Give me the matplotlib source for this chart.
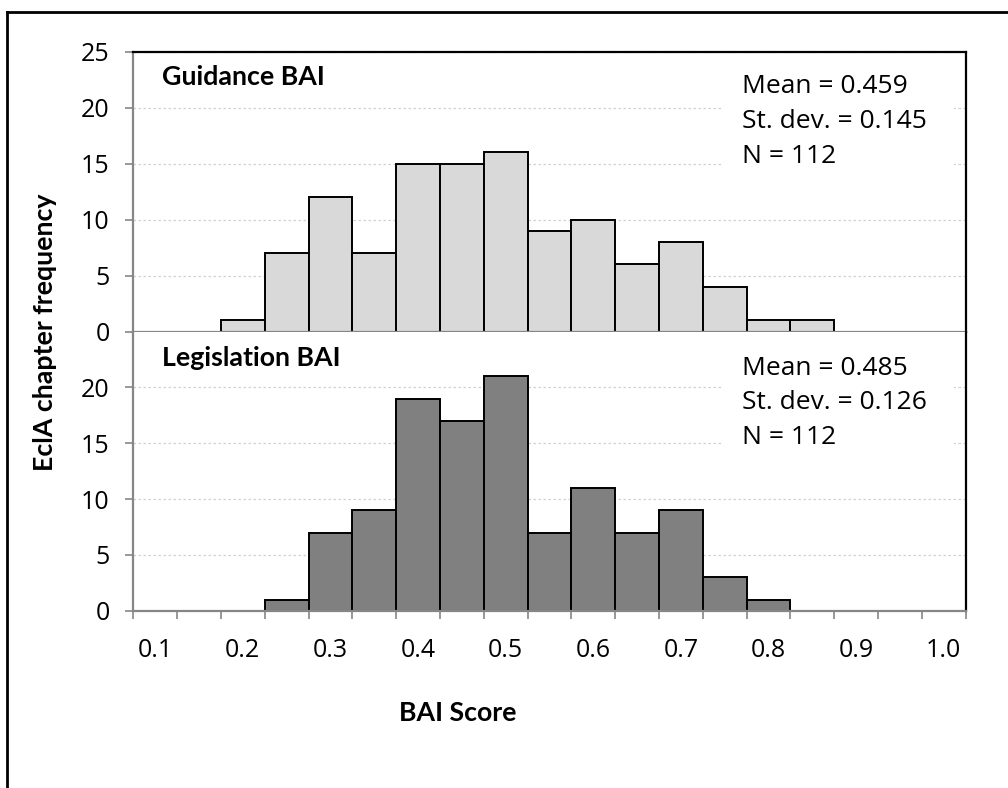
import matplotlib
matplotlib.use("Agg")
import matplotlib.pyplot as plt
from matplotlib.patches import Rectangle
from matplotlib.lines import Line2D

# ---- data ----
categories = ["0.1", "0.15", "0.2", "0.25", "0.3", "0.35", "0.4", "0.45", "0.5", "0.55",
              "0.6", "0.65", "0.7", "0.75", "0.8", "0.85", "0.9", "0.95", "1.0"]
guidance_counts = [0, 0, 1, 7, 12, 7, 15, 15, 16, 9, 10, 6, 8, 4, 1, 1, 0, 0, 0]
legislation_counts = [0, 0, 0, 1, 7, 9, 19, 17, 21, 7, 11, 7, 9, 3, 1, 0, 0, 0, 0]
guidance_stats = ["Mean = 0.459", "St. dev. = 0.145", "N = 112"]
legislation_stats = ["Mean = 0.485", "St. dev. = 0.126", "N = 112"]
top_yticks = [0, 5, 10, 15, 20, 25]
bottom_yticks = [0, 5, 10, 15, 20]

REG = ["Open Sans", "DejaVu Sans"]
BOLD = ["Lato", "DejaVu Sans"]
plt.rcParams["font.family"] = REG
REG_SIZE = 18
STAT_SIZE = 19
BOLD_SIZE = 19.3

W, H = 1008, 788
fig = plt.figure(figsize=(W / 100, H / 100), dpi=100)

left = 133.3 / W
right = 965.7 / W
y_top = 1 - 51.7 / H
y_mid = 1 - 331.5 / H
y_bot = 1 - 610.7 / H

ax1 = fig.add_axes([left, y_mid, right - left, y_top - y_mid])
ax2 = fig.add_axes([left, y_bot, right - left, y_mid - y_bot])

AXGREY = "#868686"
GRID = "#D0D0D0"
n = len(categories)
pos = list(range(n))

for ax, counts, color, yt in ((ax1, guidance_counts, "#D9D9D9", top_yticks),
                               (ax2, legislation_counts, "#808080", bottom_yticks)):
    ax.bar([p for p, c in zip(pos, counts) if c > 0],
           [c for c in counts if c > 0],
           width=1.0, color=color, edgecolor="black", linewidth=1.4, zorder=3)
    ax.set_xlim(-0.5, n - 0.5)
    ax.set_ylim(0, 25)
    ax.set_yticks(yt)
    ax.set_yticklabels([str(v) for v in yt])
    ax.tick_params(axis="y", direction="out", length=6, width=1.2, color=AXGREY,
                   labelsize=REG_SIZE, pad=11)
    ax.yaxis.grid(True, color=GRID, linestyle=(0, (2, 2)), linewidth=0.9)
    ax.set_axisbelow(True)
    ax.spines["left"].set_color(AXGREY)
    ax.spines["left"].set_linewidth(1.6)
    ax.spines["bottom"].set_color(AXGREY)
    ax.spines["bottom"].set_linewidth(1.6)
    ax.spines["right"].set_color("black")
    ax.spines["right"].set_linewidth(1.6)
    ax.spines["bottom"].set_zorder(4)

ax1.spines["top"].set_color("black")
ax1.spines["top"].set_linewidth(1.6)
ax2.spines["top"].set_visible(False)

ax1.set_xticks([])
ax1.tick_params(axis="x", which="both", length=0, labelbottom=False)

ax2.set_xticks(pos[::2])
ax2.set_xticklabels(categories[::2])
ax2.set_xticks([p - 0.5 for p in pos] + [n - 0.5], minor=True)
ax2.tick_params(axis="x", which="major", length=0, labelsize=REG_SIZE, pad=20)
ax2.tick_params(axis="x", which="minor", direction="out", length=6, width=1.2, color=AXGREY)

# white boxes behind stats text
for ax in (ax1, ax2):
    ax.add_patch(Rectangle((0.707, 0.45), 0.279, 0.5, transform=ax.transAxes,
                           facecolor="white", edgecolor="none", zorder=2))

ax1.text(0.034, 0.91, "Guidance BAI", transform=ax1.transAxes, fontsize=BOLD_SIZE,
         fontweight="bold", family=BOLD, va="center", ha="left", zorder=5)
ax2.text(0.034, 0.905, "Legislation BAI", transform=ax2.transAxes, fontsize=BOLD_SIZE,
         fontweight="bold", family=BOLD, va="center", ha="left", zorder=5)

for ax, stats, ys in ((ax1, guidance_stats, [0.874, 0.749, 0.624]),
                      (ax2, legislation_stats, [0.869, 0.744, 0.619])):
    for s, y in zip(stats, ys):
        ax.text(0.731, y, s, transform=ax.transAxes, fontsize=STAT_SIZE, va="center",
                ha="left", zorder=5)

fig.text(45 / W, 1 - 332 / H, "EclA chapter frequency", rotation=90, fontsize=BOLD_SIZE,
         fontweight="bold", family=BOLD, va="center", ha="center")
fig.text(458 / W, 1 - 713 / H, "BAI Score", fontsize=BOLD_SIZE, fontweight="bold",
         family=BOLD, va="center", ha="center")

# outer border (left and top visible)
fig.add_artist(Line2D([7 / W, 7 / W], [0, 1 - 12 / H], transform=fig.transFigure,
                      color="black", linewidth=2))
fig.add_artist(Line2D([7 / W, 1], [1 - 12 / H, 1 - 12 / H], transform=fig.transFigure,
                      color="black", linewidth=2))

fig.savefig("out.png", dpi=100)
